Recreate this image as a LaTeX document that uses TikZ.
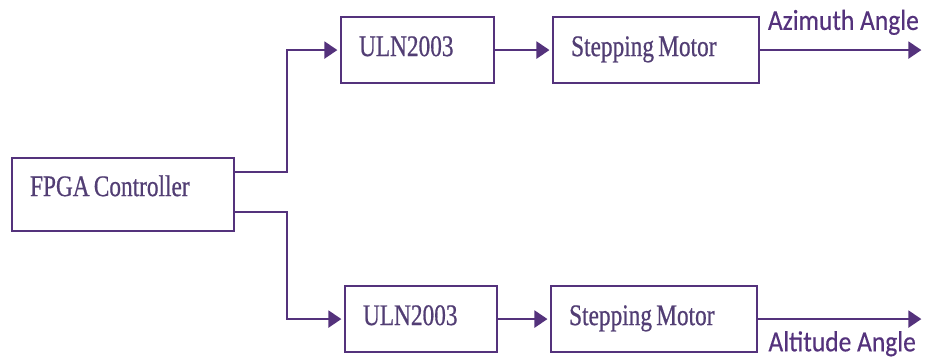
\documentclass[tikz,border=0pt]{standalone}
\usepackage{fontspec}
\usepackage{tikz}
\usetikzlibrary{
    arrows.meta,
    calc,
    positioning
}
\newfontfamily\blockfont[FakeStretch=0.78, FakeBold=0.6]{Liberation Serif}
\newfontfamily\signalfont[FakeStretch=0.88, FakeBold=0.4]{Carlito}
\newcommand\blockface{\blockfont\fontsize{17pt}{20pt}\selectfont}
\newcommand\tightspace{\spaceskip=2.4pt\relax\xspaceskip=2.4pt\relax}
\definecolor{wire}{RGB}{84,50,124}
\definecolor{blocktext}{RGB}{82,62,116}
\tikzset{
    line cap=round,
    line join=round,
    block/.style={
        rectangle,
        draw=wire,
        line width=1.2pt,
        fill=white,
        text=blocktext,
        font=\blockface,
        execute at begin node=\tightspace,
        inner xsep=0.36cm,
        inner ysep=0pt,
        text height=0.4cm,
        text depth=0.16cm,
        minimum height=1.32cm
    },
    signal/.style={
        ->,
        >={Triangle[length=0.26cm, width=0.34cm]},
        draw=wire,
        line width=1.3pt,
        shorten >=1.5pt
    },
    angle/.style={
        font=\signalfont\fontsize{16.5pt}{19pt}\selectfont,
        text=wire,
        inner sep=0pt
    }
}
\begin{document}
\begin{tikzpicture}
    \useasboundingbox (0,0) rectangle (18.5,7.12);

    % Controller
    \node[block, text width=3.72cm, minimum height=1.46cm, text depth=0.34cm,
          anchor=north west] (fpga) at (0.22,3.98) {FPGA Controller};

    % Azimuth channel
    \node[block, text width=2.34cm, anchor=north west] (ulnA) at (6.8,6.8) {ULN2003};
    \node[block, text width=3.40cm, right=1.14cm of ulnA] (motorA) {Stepping Motor};
    \coordinate (azim) at (18.48,6.16);

    % Altitude channel
    \node[block, text width=2.32cm, anchor=north west] (ulnB) at (6.88,1.42) {ULN2003};
    \node[block, text width=3.40cm, right=1.04cm of ulnB] (motorB) {Stepping Motor};
    \coordinate (alti) at (18.48,0.82);

    % Drive lines
    \draw[signal] ([yshift=-0.3cm]fpga.north east) -- ++(1.04,0) |- (ulnA.west);
    \draw[signal] ([yshift=0.4cm]fpga.south east) -- ++(1.04,0) |- (ulnB.west);
    \draw[signal] (ulnA) -- (motorA);
    \draw[signal] (ulnB) -- (motorB);

    % Outputs
    \draw[signal] (motorA.east) -- (motorA.east -| azim)
        node[pos=1, angle, anchor=south east, yshift=0.28cm, xshift=-0.08cm] (azlabel) {Azimuth Angle};
    \draw[signal] (motorB.east) -- (motorB.east -| alti)
        node[pos=1, angle, anchor=north east, yshift=-0.22cm, xshift=-0.14cm] (altlabel) {Altitude Angle};

\end{tikzpicture}
\end{document}
